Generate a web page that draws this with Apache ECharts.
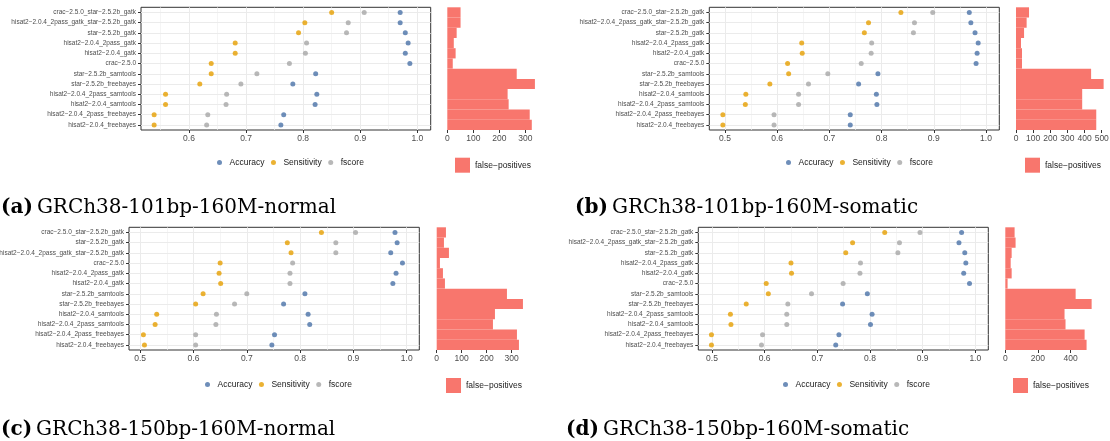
<!DOCTYPE html>
<html><head><meta charset="utf-8">
<script src="https://cdn.jsdelivr.net/npm/echarts@6/dist/echarts.min.js"></script>
<style>html,body{margin:0;padding:0;background:#fff}#c{width:1110px;height:441px}</style>
</head><body><div id="c"></div>
<script>
// ---------------- data ----------------
const metricNames = ['Accuracy', 'Sensitivity', 'fscore'];
const fpName = 'false−positives';

const captionTags = ['(a)', '(b)', '(c)', '(d)'];
const captionTexts = ['GRCh38-101bp-160M-normal', 'GRCh38-101bp-160M-somatic', 'GRCh38-150bp-160M-normal', 'GRCh38-150bp-160M-somatic'];

const catsA = ['crac−2.5.0_star−2.5.2b_gatk', 'hisat2−2.0.4_2pass_gatk_star−2.5.2b_gatk', 'star−2.5.2b_gatk', 'hisat2−2.0.4_2pass_gatk', 'hisat2−2.0.4_gatk', 'crac−2.5.0', 'star−2.5.2b_samtools', 'star−2.5.2b_freebayes', 'hisat2−2.0.4_2pass_samtools', 'hisat2−2.0.4_samtools', 'hisat2−2.0.4_2pass_freebayes', 'hisat2−2.0.4_freebayes'];
const accA    = [0.970, 0.970, 0.979, 0.984, 0.979, 0.987, 0.822, 0.782, 0.824, 0.821, 0.766, 0.761];
const sensA   = [0.850, 0.803, 0.792, 0.681, 0.681, 0.639, 0.639, 0.619, 0.559, 0.559, 0.539, 0.539];
const fscoreA = [0.907, 0.879, 0.876, 0.806, 0.804, 0.776, 0.719, 0.691, 0.666, 0.665, 0.633, 0.631];
const fpA     = [51, 51, 36, 25, 32, 21, 267, 337, 232, 236, 317, 325];

const catsB = ['crac−2.5.0_star−2.5.2b_gatk', 'hisat2−2.0.4_2pass_gatk_star−2.5.2b_gatk', 'star−2.5.2b_gatk', 'hisat2−2.0.4_2pass_gatk', 'hisat2−2.0.4_gatk', 'crac−2.5.0', 'star−2.5.2b_samtools', 'star−2.5.2b_freebayes', 'hisat2−2.0.4_samtools', 'hisat2−2.0.4_2pass_samtools', 'hisat2−2.0.4_2pass_freebayes', 'hisat2−2.0.4_freebayes'];
const accB    = [0.968, 0.971, 0.979, 0.985, 0.983, 0.981, 0.793, 0.756, 0.790, 0.791, 0.740, 0.740];
const sensB   = [0.837, 0.775, 0.767, 0.647, 0.648, 0.620, 0.622, 0.586, 0.540, 0.539, 0.496, 0.496];
const fscoreB = [0.898, 0.863, 0.861, 0.781, 0.780, 0.761, 0.697, 0.660, 0.641, 0.641, 0.594, 0.594];
const fpB     = [76, 62, 47, 29, 35, 35, 438, 511, 386, 386, 468, 468];

const catsC = ['crac−2.5.0_star−2.5.2b_gatk', 'star−2.5.2b_gatk', 'hisat2−2.0.4_2pass_gatk_star−2.5.2b_gatk', 'crac−2.5.0', 'hisat2−2.0.4_2pass_gatk', 'hisat2−2.0.4_gatk', 'star−2.5.2b_samtools', 'star−2.5.2b_freebayes', 'hisat2−2.0.4_samtools', 'hisat2−2.0.4_2pass_samtools', 'hisat2−2.0.4_2pass_freebayes', 'hisat2−2.0.4_freebayes'];
const accC    = [0.978, 0.982, 0.970, 0.992, 0.980, 0.974, 0.809, 0.769, 0.815, 0.818, 0.752, 0.747];
const sensC   = [0.840, 0.776, 0.783, 0.650, 0.648, 0.651, 0.618, 0.604, 0.531, 0.528, 0.506, 0.508];
const fscoreC = [0.904, 0.867, 0.867, 0.786, 0.781, 0.781, 0.700, 0.677, 0.643, 0.642, 0.604, 0.604];
const fpC     = [37, 29, 49, 13, 25, 33, 281, 345, 233, 225, 321, 329];

const catsD = ['crac−2.5.0_star−2.5.2b_gatk', 'hisat2−2.0.4_2pass_gatk_star−2.5.2b_gatk', 'star−2.5.2b_gatk', 'hisat2−2.0.4_2pass_gatk', 'hisat2−2.0.4_gatk', 'crac−2.5.0', 'star−2.5.2b_samtools', 'star−2.5.2b_freebayes', 'hisat2−2.0.4_2pass_samtools', 'hisat2−2.0.4_samtools', 'hisat2−2.0.4_2pass_freebayes', 'hisat2−2.0.4_freebayes'];
const accD    = [0.974, 0.969, 0.980, 0.982, 0.978, 0.989, 0.795, 0.748, 0.804, 0.801, 0.741, 0.735];
const sensD   = [0.828, 0.767, 0.754, 0.650, 0.651, 0.603, 0.607, 0.565, 0.535, 0.536, 0.499, 0.499];
const fscoreD = [0.895, 0.856, 0.853, 0.782, 0.781, 0.749, 0.689, 0.644, 0.642, 0.642, 0.596, 0.594];
const fpD     = [57, 63, 39, 33, 39, 14, 431, 529, 363, 369, 486, 498];

const dotTicksA = [0.6, 0.7, 0.8, 0.9, 1.0];
const dotTicksB = [0.5, 0.6, 0.7, 0.8, 0.9, 1.0];
const dotTicksC = [0.5, 0.6, 0.7, 0.8, 0.9, 1.0];
const dotTicksD = [0.5, 0.6, 0.7, 0.8, 0.9, 1.0];
const dotMinorTicks = [0.55, 0.65, 0.75, 0.85, 0.95];
const barTicksA = [0, 100, 200, 300];
const barTicksB = [0, 100, 200, 300, 400, 500];
const barTicksC = [0, 100, 200, 300];
const barTicksD = [0, 200, 400];

// ---------------- layout / style ----------------
const COL = { Accuracy: '#4A72A8', Sensitivity: '#E69F00', fscore: '#A6A6A6', bar: '#F8766D' };
const SANS = 'Liberation Sans';

const layout = [
  { dot: { left: 141, top: 7.3, width: 289.7, height: 122.7, min: 0.516, max: 1.0235 },
    bar: { left: 447.3, width: 93.6, max: 360 },
    legDot: { left: 217, top: 158 }, legBar: { left: 455, top: 157.7 }, cap: { left: 1, top: 198 } },
  { dot: { left: 709.3, top: 7.3, width: 290, height: 122.7, min: 0.470, max: 1.0255 },
    bar: { left: 1016, width: 92.6, max: 540 },
    legDot: { left: 786, top: 158 }, legBar: { left: 1025, top: 157.7 }, cap: { left: 575, top: 198 } },
  { dot: { left: 129, top: 227.3, width: 290.3, height: 122.7, min: 0.479, max: 1.0236 },
    bar: { left: 436.7, width: 90, max: 360 },
    legDot: { left: 205, top: 380 }, legBar: { left: 446, top: 378 }, cap: { left: 1, top: 420 } },
  { dot: { left: 698.3, top: 227.3, width: 290, height: 122.7, min: 0.474, max: 1.0247 },
    bar: { left: 1005.3, width: 91.4, max: 560 },
    legDot: { left: 783, top: 380 }, legBar: { left: 1013, top: 378 }, cap: { left: 566, top: 420 } }
];

const panelData = [
  { cats: catsA, vals: [accA, sensA, fscoreA], fp: fpA, dotTicks: dotTicksA, barTicks: barTicksA },
  { cats: catsB, vals: [accB, sensB, fscoreB], fp: fpB, dotTicks: dotTicksB, barTicks: barTicksB },
  { cats: catsC, vals: [accC, sensC, fscoreC], fp: fpC, dotTicks: dotTicksC, barTicks: barTicksC },
  { cats: catsD, vals: [accD, sensD, fscoreD], fp: fpD, dotTicks: dotTicksD, barTicks: barTicksD }
];

const grid = [], xAxis = [], yAxis = [], series = [], legend = [], title = [];

panelData.forEach((p, i) => {
  const L = layout[i];
  const gd = 2 * i, gb = 2 * i + 1;
  grid.push({ left: L.dot.left, top: L.dot.top, width: L.dot.width, height: L.dot.height,
    show: true, borderColor: '#333333', borderWidth: 1, backgroundColor: 'transparent', outerBoundsMode: 'none' });
  grid.push({ left: L.bar.left, top: L.dot.top, width: L.bar.width, height: L.dot.height,
    show: false, outerBoundsMode: 'none' });

  xAxis.push({ type: 'value', gridIndex: gd, min: L.dot.min, max: L.dot.max,
    axisLine: { show: false }, splitLine: { show: false },
    axisTick: { show: true, length: 3, customValues: p.dotTicks, lineStyle: { color: '#333333', width: 1 } },
    axisLabel: { show: true, customValues: p.dotTicks, margin: 4, fontSize: 8.5, fontFamily: SANS, color: '#4D4D4D',
      formatter: v => v.toFixed(1) } });
  xAxis.push({ type: 'value', gridIndex: gb, min: 0, max: L.bar.max,
    axisLine: { show: false }, splitLine: { show: false },
    axisTick: { show: true, length: 3, customValues: p.barTicks, lineStyle: { color: '#333333', width: 1 } },
    axisLabel: { show: true, customValues: p.barTicks, margin: 4, fontSize: 8.5, fontFamily: SANS, color: '#4D4D4D' } });

  yAxis.push({ type: 'category', gridIndex: gd, data: p.cats, inverse: true,
    axisLine: { show: false }, splitLine: { show: false },
    axisTick: { show: true, length: 3, alignWithLabel: true, lineStyle: { color: '#333333', width: 1 } },
    axisLabel: { show: true, interval: 0, margin: 5, fontSize: 6.5, fontFamily: SANS, color: '#4D4D4D' } });
  yAxis.push({ type: 'category', gridIndex: gb, data: p.cats, inverse: true,
    axisLine: { show: false }, axisTick: { show: false }, axisLabel: { show: false }, splitLine: { show: false } });

  const gridLines = [];
  p.dotTicks.concat([0.5, 1.0]).filter((v, k, a) => a.indexOf(v) === k && v > L.dot.min && v < L.dot.max)
    .forEach(v => gridLines.push({ xAxis: v, lineStyle: { color: '#EBEBEB', width: 1, type: 'solid' } }));
  dotMinorTicks.filter(v => v > L.dot.min && v < L.dot.max)
    .forEach(v => gridLines.push({ xAxis: v, lineStyle: { color: '#F1F1F1', width: 0.7, type: 'solid' } }));
  p.cats.forEach((c, k) => gridLines.push({ yAxis: k, lineStyle: { color: '#EBEBEB', width: 1, type: 'solid' } }));

  metricNames.forEach((m, k) => {
    const s = { type: 'scatter', name: m, xAxisIndex: gd, yAxisIndex: gd, symbol: 'circle', symbolSize: 5,
      itemStyle: { color: COL[m] }, z: 3, silent: true, animation: false,
      data: p.vals[k].map((v, j) => [v, p.cats[j]]) };
    if (k === 0) {
      s.markLine = { silent: true, z: 1, symbol: ['none', 'none'], label: { show: false }, animation: false,
        emphasis: { disabled: true }, data: gridLines };
    }
    series.push(s);
  });
  series.push({ type: 'bar', name: fpName, xAxisIndex: gb, yAxisIndex: gb, barCategoryGap: '0%', barWidth: '100%',
    itemStyle: { color: COL.bar }, silent: true, animation: false, data: p.fp });

  legend.push({ data: metricNames, left: L.legDot.left, top: L.legDot.top, orient: 'horizontal',
    icon: 'circle', itemWidth: 10, itemHeight: 5, itemGap: 6.5, selectedMode: false, padding: 0,
    textStyle: { fontSize: 8.5, fontFamily: SANS, color: '#222' } });
  legend.push({ data: [fpName], left: L.legBar.left, top: L.legBar.top, icon: 'rect',
    itemWidth: 15, itemHeight: 15, selectedMode: false, padding: 0,
    itemStyle: { color: COL.bar },
    textStyle: { fontSize: 8.5, fontFamily: SANS, color: '#222' } });

  title.push({ text: '{b|' + captionTags[i] + '}{t|' + captionTexts[i] + '}', left: L.cap.left, top: L.cap.top, padding: 0,
    textStyle: { fontWeight: 'normal', rich: {
      b: { fontFamily: 'DejaVu Serif', fontWeight: 'bold', fontSize: 20, color: '#000' },
      t: { fontFamily: 'DejaVu Serif', fontWeight: 'normal', fontSize: 20, color: '#000', padding: [0, 0, 0, 4] } } } });
});

const chart = echarts.init(document.getElementById('c'), null, { renderer: 'canvas' });
chart.setOption({ animation: false, backgroundColor: '#fff', grid, xAxis, yAxis, series, legend, title, tooltip: { show: false } });
</script></body></html>
